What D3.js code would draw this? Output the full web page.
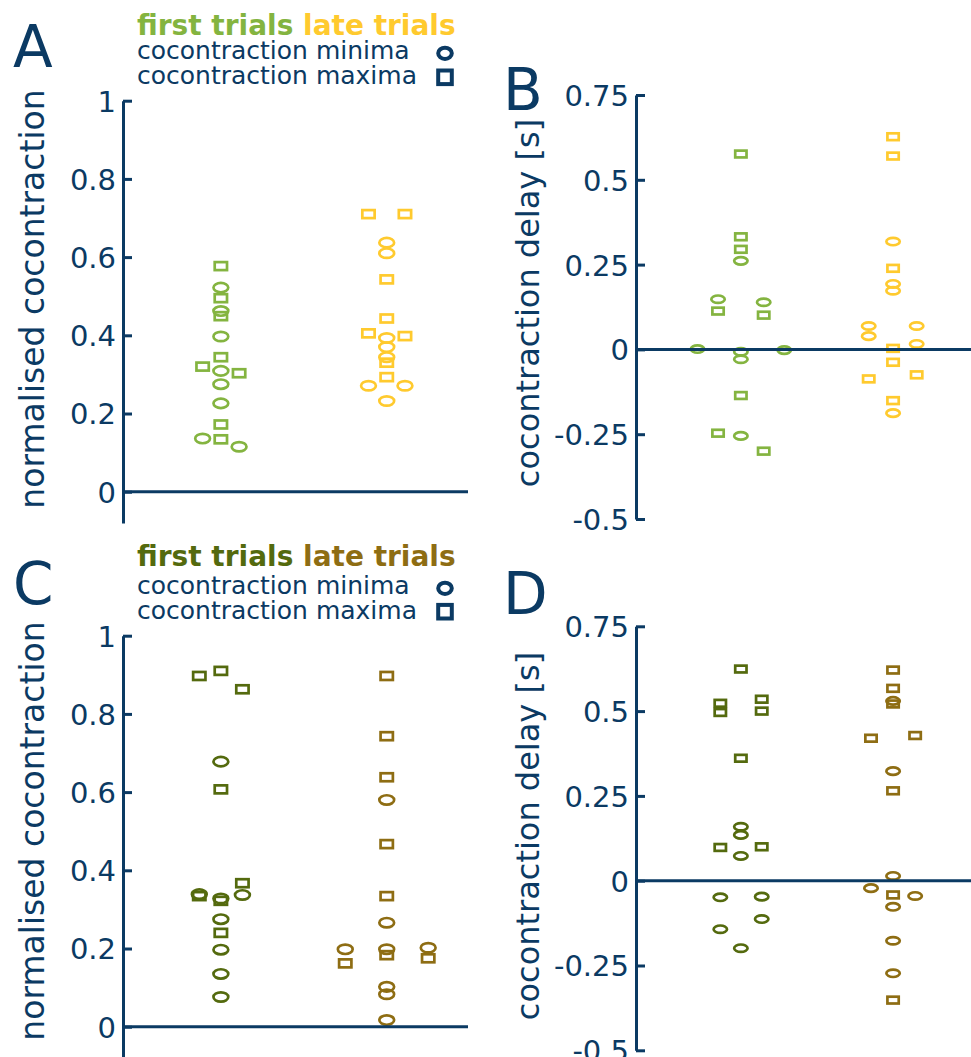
<!DOCTYPE html>
<html><head><meta charset="utf-8">
<script src="https://cdn.jsdelivr.net/npm/d3@7"></script>
<style>
body{margin:0;background:#fff}
svg{display:block}
text{font-family:"DejaVu Sans",Verdana,sans-serif}
</style>
</head><body>
<svg id="chart" width="971" height="1057"></svg>
<script>
// ---------------- DATA ----------------
// each point: [x position on the category axis (1 = first trials, 2 = late trials, with swarm offset), value]
const groups = ["first trials", "late trials"];
const markerTypes = ["cocontraction minima", "cocontraction maxima"];

const ticksNorm = [0, 0.2, 0.4, 0.6, 0.8, 1];
const ticksNormLabels = ["0", "0.2", "0.4", "0.6", "0.8", "1"];
const ticksDelay = [-0.5, -0.25, 0, 0.25, 0.5, 0.75];
const ticksDelayLabels = ["-0.5", "-0.25", "0", "0.25", "0.5", "0.75"];

// Panel A: normalised cocontraction
const A_firstMin = [[1,0.522],[1,0.462],[1,0.397],[1,0.309],[1,0.275],[1,0.226],[0.89,0.136],[1.11,0.115]];
const A_firstMax = [[1,0.577],[1,0.495],[1,0.449],[1,0.344],[0.89,0.320],[1.11,0.303],[1,0.172],[1,0.134]];
const A_lateMin  = [[2,0.637],[2,0.610],[2,0.393],[2,0.370],[2,0.344],[1.89,0.271],[2.11,0.271],[2,0.232]];
const A_lateMax  = [[1.89,0.710],[2.11,0.710],[2,0.543],[2,0.443],[1.89,0.405],[2.11,0.398],[2,0.330],[2,0.293]];

// Panel B: cocontraction delay [s]
const B_firstMin = [[1,0.261],[0.85,0.148],[1.15,0.139],[0.715,0.001],[1,-0.007],[1,-0.029],[1.285,-0.002],[1,-0.255]];
const B_firstMax = [[1,0.576],[1,0.332],[1,0.295],[0.85,0.113],[1.15,0.101],[1,-0.136],[0.85,-0.247],[1.15,-0.300]];
const B_lateMin  = [[2,0.318],[2,0.193],[2,0.173],[1.84,0.069],[1.84,0.039],[2.155,0.069],[2.155,0.016],[2,-0.188]];
const B_lateMax  = [[2,0.627],[2,0.570],[2,0.239],[2,0.003],[2,-0.038],[1.84,-0.087],[2.155,-0.075],[2,-0.151]];

// Panel C: normalised cocontraction
const C_firstMin = [[1,0.678],[0.87,0.339],[1,0.328],[1.13,0.337],[1,0.275],[1,0.197],[1,0.135],[1,0.076]];
const C_firstMax = [[0.87,0.897],[1,0.910],[1.13,0.863],[1,0.607],[1.13,0.367],[0.87,0.334],[1,0.322],[1,0.240]];
const C_lateMin  = [[2,0.580],[2,0.266],[1.75,0.198],[2,0.198],[2.25,0.202],[2,0.102],[2,0.083],[2,0.017]];
const C_lateMax  = [[2,0.897],[2,0.743],[2,0.638],[2,0.467],[2,0.334],[1.75,0.162],[2,0.183],[2.25,0.175]];

// Panel D: cocontraction delay [s]
const D_firstMin = [[1,0.159],[1,0.135],[1,0.073],[0.865,-0.049],[1.137,-0.047],[1.137,-0.113],[0.865,-0.143],[1,-0.199]];
const D_firstMax = [[1,0.624],[0.865,0.523],[0.865,0.496],[1.137,0.535],[1.137,0.500],[1,0.361],[0.865,0.098],[1.137,0.100]];
const D_lateMin  = [[2,0.530],[2,0.323],[2,0.014],[1.855,-0.022],[2.145,-0.045],[2,-0.077],[2,-0.177],[2,-0.273]];
const D_lateMax  = [[2,0.621],[2,0.567],[2,0.521],[1.855,0.420],[2.145,0.428],[2,0.265],[2,-0.042],[2,-0.352]];

// ---------------- STYLE / LAYOUT ----------------
const NAVY = "#0b3a63";
const FONT = '"DejaVu Sans",Verdana,sans-serif';
const svg = d3.select("#chart");

const panels = [
  {letter:"A", lx:13, ly:67, title:"normalised cocontraction", tfs:33, tx:44, ty:299,
   ax:123, xEnd:468, yDom:[-0.08,1], yRng:[523,100.7], xDom:[0.41,2.49],
   ticks:ticksNorm, labels:ticksNormLabels,
   colors:["#84b440","#ffca2e"], rx:7.4, ry:4.7, sw:12.3, sh:8,
   data:[A_firstMin, A_firstMax, A_lateMin, A_lateMax],
   legend:{x:137, y0:35, y1:59.3, y2:84, mx:445, my1:53.3, my2:77.3}},
  {letter:"B", lx:503, ly:110, title:"cocontraction delay [s]", tfs:32, tx:539, ty:303,
   ax:636, xEnd:971, yDom:[-0.5,0.75], yRng:[519,95], xDom:[0.311,2.512],
   ticks:ticksDelay, labels:ticksDelayLabels,
   colors:["#84b440","#ffca2e"], rx:6.7, ry:3.7, sw:11.3, sh:6.8,
   data:[B_firstMin, B_firstMax, B_lateMin, B_lateMax]},
  {letter:"C", lx:13, ly:604, title:"normalised cocontraction", tfs:33, tx:44, ty:831,
   ax:123, xEnd:468, yDom:[-0.08,1], yRng:[1058,635.7], xDom:[0.41,2.49],
   ticks:ticksNorm, labels:ticksNormLabels,
   colors:["#546a0e","#8e6d13"], rx:7.4, ry:4.7, sw:12.3, sh:8,
   data:[C_firstMin, C_firstMax, C_lateMin, C_lateMax],
   legend:{x:137, y0:566, y1:594, y2:619.3, mx:445, my1:588.3, my2:611.7}},
  {letter:"D", lx:503, ly:614, title:"cocontraction delay [s]", tfs:32, tx:539, ty:836,
   ax:636, xEnd:971, yDom:[-0.5,0.75], yRng:[1050.3,626.3], xDom:[0.311,2.512],
   ticks:ticksDelay, labels:ticksDelayLabels,
   colors:["#546a0e","#8e6d13"], rx:6.7, ry:3.7, sw:11.3, sh:6.8,
   data:[D_firstMin, D_firstMax, D_lateMin, D_lateMax]}
];

panels.forEach(p => {
  const g = svg.append("g");
  const x = d3.scaleLinear().domain(p.xDom).range([p.ax, p.xEnd]);
  const y = d3.scaleLinear().domain(p.yDom).range(p.yRng);

  // panel letter
  g.append("text").attr("x", p.lx).attr("y", p.ly)
    .attr("font-size", 58).attr("fill", NAVY).text(p.letter);

  // y title
  g.append("text").attr("transform", `translate(${p.tx},${p.ty}) rotate(-90)`)
    .attr("text-anchor","middle").attr("font-size", p.tfs).attr("fill", NAVY).text(p.title);

  // markers: squares (maxima) then circles (minima)
  const sets = [
    {pts:p.data[1], color:p.colors[0], shape:"sq"},
    {pts:p.data[3], color:p.colors[1], shape:"sq"},
    {pts:p.data[0], color:p.colors[0], shape:"ci"},
    {pts:p.data[2], color:p.colors[1], shape:"ci"}
  ];
  sets.forEach(s => {
    if (s.shape === "ci") {
      g.append("g").selectAll("ellipse").data(s.pts).join("ellipse")
        .attr("cx", d => x(d[0])).attr("cy", d => y(d[1]))
        .attr("rx", p.rx).attr("ry", p.ry)
        .attr("fill","none").attr("stroke", s.color).attr("stroke-width", 2.7);
    } else {
      g.append("g").selectAll("rect").data(s.pts).join("rect")
        .attr("x", d => x(d[0]) - p.sw/2).attr("y", d => y(d[1]) - p.sh/2)
        .attr("width", p.sw).attr("height", p.sh)
        .attr("fill","none").attr("stroke", s.color).attr("stroke-width", 2.7);
    }
  });

  // axis
  const axis = d3.axisLeft(y).tickValues(p.ticks)
    .tickFormat((d,i) => p.labels[i])
    .tickSizeInner(-9).tickSizeOuter(0).tickPadding(7);
  const ag = g.append("g").attr("transform", `translate(${p.ax},0)`).call(axis);
  ag.select(".domain").attr("stroke", NAVY).attr("stroke-width", 3);
  ag.selectAll(".tick line").attr("stroke", NAVY).attr("stroke-width", 3);
  ag.selectAll(".tick text").attr("fill", NAVY).attr("font-size", 29)
    .attr("font-family", FONT).attr("dy", "0.36em");

  // zero line
  g.append("line").attr("x1", p.ax).attr("x2", p.xEnd)
    .attr("y1", y(0)).attr("y2", y(0))
    .attr("stroke", NAVY).attr("stroke-width", 3);

  // legend
  if (p.legend) {
    const L = p.legend;
    const t = g.append("text").attr("x", L.x).attr("y", L.y0)
      .attr("font-size", 28).attr("font-weight", "bold");
    t.append("tspan").attr("fill", p.colors[0]).text(groups[0]);
    t.append("tspan").attr("fill", p.colors[1]).text(" " + groups[1]);
    g.append("text").attr("x", L.x).attr("y", L.y1).attr("font-size", 25)
      .attr("fill", NAVY).text(markerTypes[0]);
    g.append("text").attr("x", L.x).attr("y", L.y2).attr("font-size", 25)
      .attr("fill", NAVY).text(markerTypes[1]);
    g.append("ellipse").attr("cx", L.mx).attr("cy", L.my1).attr("rx", 6.8).attr("ry", 5.6)
      .attr("fill","none").attr("stroke", NAVY).attr("stroke-width", 4);
    g.append("rect").attr("x", L.mx - 6.8).attr("y", L.my2 - 6.8).attr("width", 13.6).attr("height", 13.6)
      .attr("fill","none").attr("stroke", NAVY).attr("stroke-width", 4);
  }
});
</script>
</body></html>
